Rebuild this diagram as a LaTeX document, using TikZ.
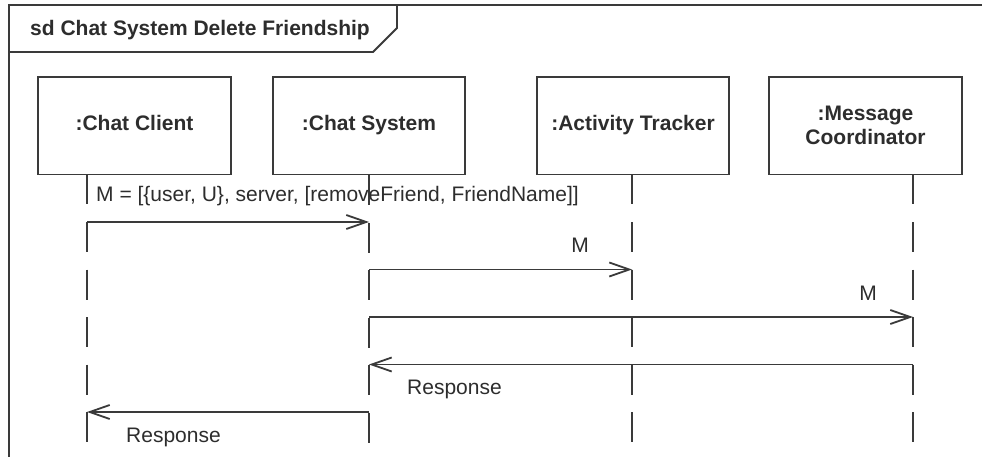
\documentclass[tikz,border=0pt]{standalone}
\usepackage{fontspec}
\setmainfont{Liberation Sans}
\usetikzlibrary{arrows.meta}
\definecolor{ink}{RGB}{58,58,58}
\definecolor{txt}{RGB}{45,45,45}
\begin{document}
\begin{tikzpicture}[x=1pt,y=-1pt,
  every node/.style={font=\fontsize{21}{25}\selectfont, text=txt},
  frameline/.style={draw=ink, line width=1.8pt},
  lifebox/.style={draw=ink, line width=1.8pt, fill=white, minimum height=97.5pt,
    inner sep=0pt, font=\fontsize{21}{25}\selectfont\bfseries, align=center},
  oneline/.style={text height=15pt, text depth=4.5pt},
  lifeline/.style={draw=ink, line width=1.8pt, dash pattern=on 30pt off 17.5pt},
  msg/.style={draw=ink, line width=1.8pt,
    -{Straight Barb[length=20pt,width=14pt,line width=1.8pt]}},
  msglabel/.style={inner sep=0pt}]
\useasboundingbox (0,0) rectangle (982,457);
\fill[white] (0,0) rectangle (982,457);

% interaction frame and its name tab
\draw[frameline] (9,460) -- (9,5) -- (985,5);
\draw[frameline] (9,52) -- (373,52) -- (397,28) -- (397,5);
\node[anchor=base west, font=\fontsize{21}{25}\selectfont\bfseries, inner sep=0pt] (title)
  at (30,36) {sd Chat System Delete Friendship};

% lifeline heads
\node[lifebox, oneline, minimum width=193pt] (cc) at (134.5,125.75) {:Chat Client};
\node[lifebox, oneline, minimum width=192pt] (cs) at (369,125.75) {:Chat System};
\node[lifebox, oneline, minimum width=192pt] (at) at (633,125.75) {:Activity Tracker};
\node[lifebox, minimum width=193pt] (mc) at (865.5,125.75) {:Message\\[-1pt]Coordinator};

% lifeline tops and ends
\coordinate (ccT) at (87,174.5);   \coordinate (ccB) at (87,445);
\coordinate (csT) at (cs.south);   \coordinate (csB) at (369,445);
\coordinate (atT) at (632,174.5);  \coordinate (atB) at (632,445);
\coordinate (mcT) at (913,174.5);  \coordinate (mcB) at (913,445);

\draw[lifeline] (ccT) -- (ccB);
\draw[lifeline] (csT) -- (csB);
\draw[lifeline] (atT) -- (atB);
\draw[lifeline] (mcT) -- (mcB);

% message rows
\coordinate (m1) at (0,222);
\coordinate (m2) at (0,269.5);
\coordinate (m3) at (0,317);
\coordinate (m4) at (0,364.5);
\coordinate (m5) at (0,412);

\draw[msg] (ccT |- m1) -- (csT |- m1);
\draw[msg] (csT |- m2) -- (atT |- m2);
\draw[msg] (csT |- m3) -- (mcT |- m3);
\draw[msg] (mcT |- m4) -- (csT |- m4);
\draw[msg] (csT |- m5) -- (ccT |- m5);

% message labels
\node[msglabel, anchor=base west] (l1) at (96,202)
  {M = [\{user, U\}, server, [removeFriend, FriendName]]};
\node[msglabel, anchor=base east] (l2) at (589,252.5) {M};
\node[msglabel, anchor=base east] (l3) at (877,300) {M};
\node[msglabel, anchor=base west] (l4) at (407,394) {Response};
\node[msglabel, anchor=base west] (l5) at (126,442) {Response};
\end{tikzpicture}
\end{document}
